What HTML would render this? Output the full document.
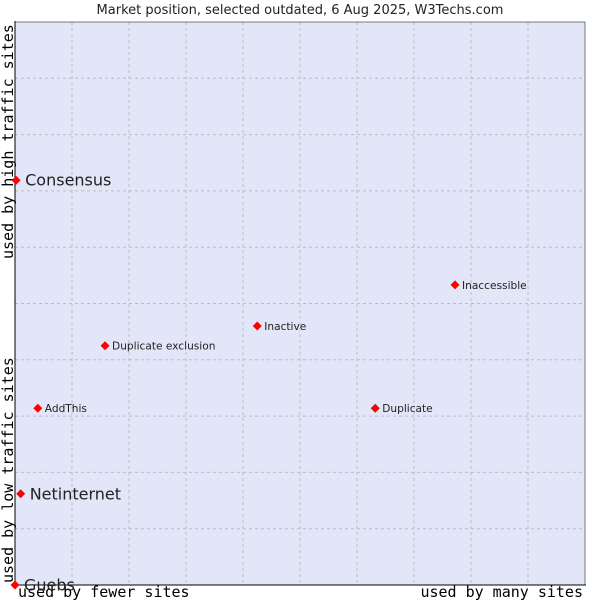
<!DOCTYPE html>
<html><head><meta charset="utf-8"><style>body{margin:0;background:#fff}svg{display:block}</style></head>
<body>
<svg width="600" height="600" xmlns="http://www.w3.org/2000/svg">
<text x="300" y="14" text-anchor="middle" font-family="DejaVu Sans, sans-serif" font-size="13" fill="#222">Market position, selected outdated, 6 Aug 2025, W3Techs.com</text>
<rect x="15" y="22" width="570" height="563" fill="#e3e5f8"/>
<g id="grid" stroke="#bdbdbd" stroke-dasharray="3,3" stroke-width="1"></g>
<line x1="15" y1="21" x2="15" y2="585" stroke="#000"/>
<line x1="15" y1="585" x2="586" y2="585" stroke="#000"/>
<line x1="15" y1="22" x2="585" y2="22" stroke="#000" stroke-width="0.5"/>
<line x1="585" y1="22" x2="585" y2="585" stroke="#000" stroke-width="0.5"/>
<text transform="translate(13,259) rotate(-90)" font-family="DejaVu Sans Mono, Liberation Mono, monospace" font-size="15" fill="#000">used by high traffic sites</text>
<text transform="translate(13,583) rotate(-90)" font-family="DejaVu Sans Mono, Liberation Mono, monospace" font-size="15" fill="#000">used by low traffic sites</text>
<text x="18" y="597" font-family="DejaVu Sans Mono, Liberation Mono, monospace" font-size="15" fill="#000">used by fewer sites</text>
<text x="583" y="597" text-anchor="end" font-family="DejaVu Sans Mono, Liberation Mono, monospace" font-size="15" fill="#000">used by many sites</text>
<g id="points"></g>
</svg>
<script>
const names=["Consensus","Netinternet","Guebs","AddThis","Duplicate exclusion","Inactive","Duplicate","Inaccessible"];
const xValues=[0.2,1,0,4,15.8,42.5,63.2,77.2];
const yValues=[71.9,16.2,0,31.4,42.5,46,31.4,53.3];
const bigLabel=[true,true,true,false,false,false,false,false];
const L=15,R=585,T=22,B=585;
const sx=v=>L+v/100*(R-L);
const sy=v=>B-v/100*(B-T);
const NS="http://www.w3.org/2000/svg";
const grid=document.getElementById('grid');
for(let i=1;i<10;i++){
  const l=document.createElementNS(NS,'line');
  
  
  l.setAttribute('x1',sx(i*10));l.setAttribute('x2',sx(i*10));l.setAttribute('y1',T);l.setAttribute('y2',B);
  grid.appendChild(l);
  const h=document.createElementNS(NS,'line');
  
  
  h.setAttribute('y1',sy(i*10));h.setAttribute('y2',sy(i*10));h.setAttribute('x1',L);h.setAttribute('x2',R);
  grid.appendChild(h);
}
const g=document.getElementById('points');
names.forEach((n,i)=>{
  const x=sx(xValues[i]),y=sy(yValues[i]);
  const p=document.createElementNS(NS,'polygon');
  
  
  p.setAttribute('points',`${x},${y-4.5} ${x+4.5},${y} ${x},${y+4.5} ${x-4.5},${y}`);
  p.setAttribute('fill','#f00');
  g.appendChild(p);
  const t=document.createElementNS(NS,'text');
  
  
  t.setAttribute('x',x+(bigLabel[i]?9:7));
  t.setAttribute('y',y+(bigLabel[i]?5.5:4));
  t.setAttribute('font-family','DejaVu Sans, sans-serif');
  t.setAttribute('font-size',bigLabel[i]?'16':'10.6');
  t.setAttribute('fill','#222');
  t.textContent=n;
  g.appendChild(t);
});
</script>
</body></html>
